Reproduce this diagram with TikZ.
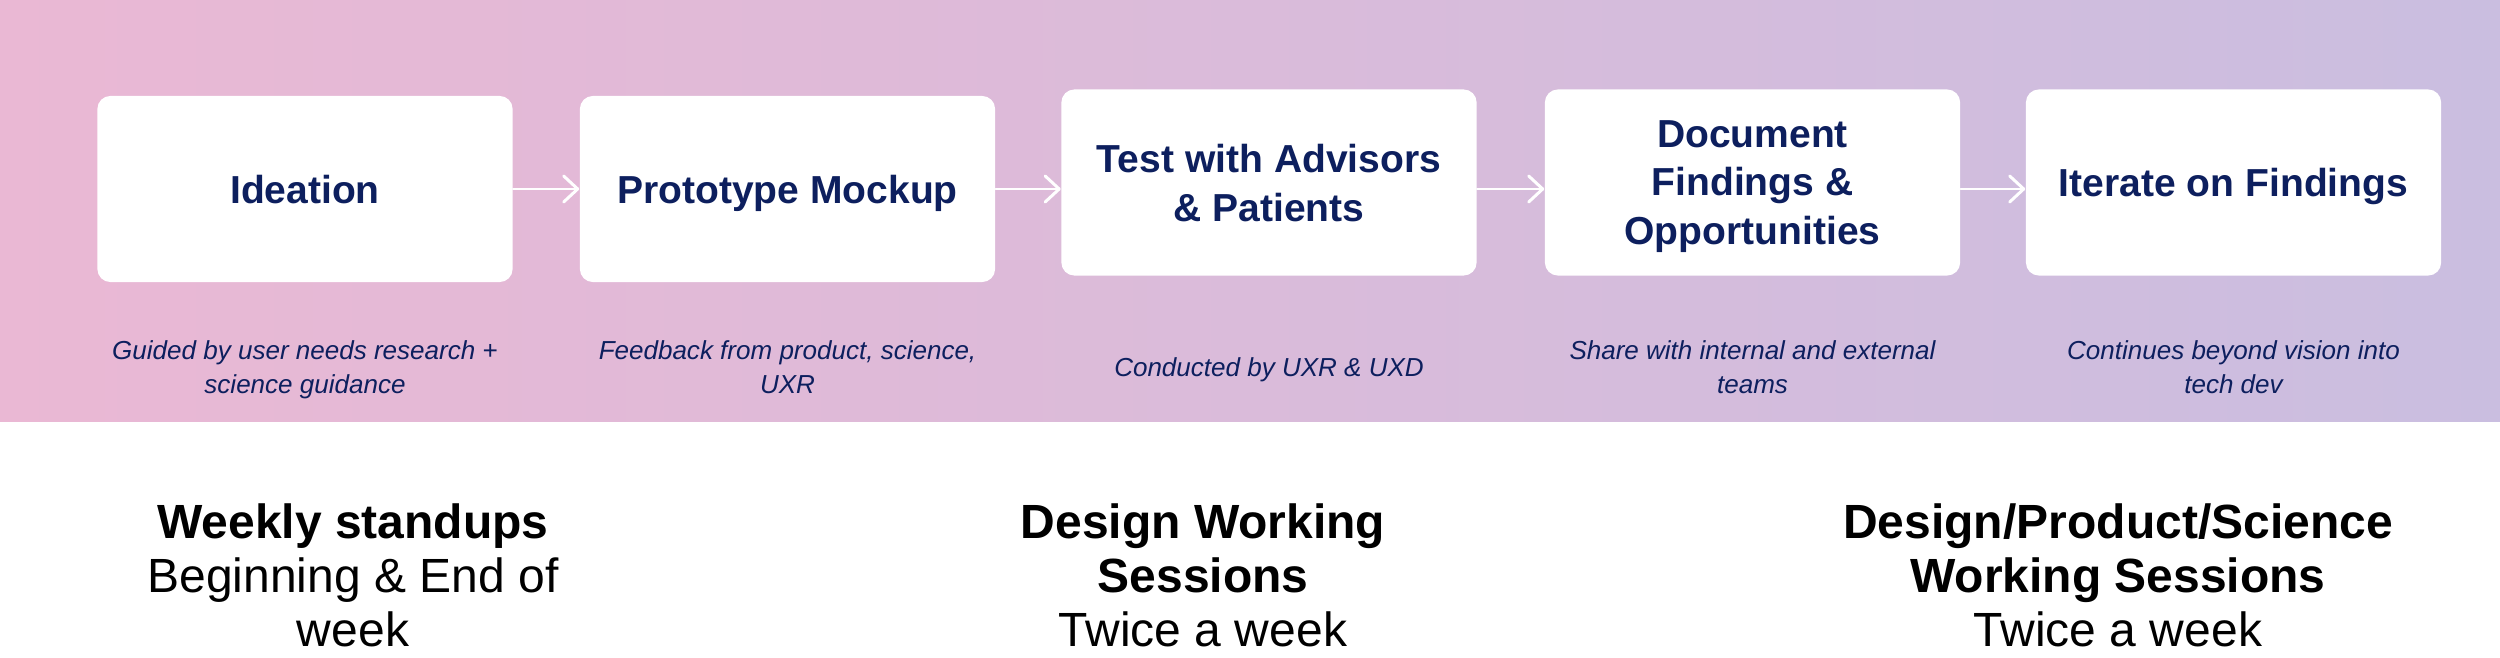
\documentclass[tikz,border=0pt]{standalone}
\usepackage{fontspec}
\setmainfont{Liberation Sans}
\usetikzlibrary{arrows.meta,calc}
\definecolor{navy}{RGB}{13,31,94}
\definecolor{gradl}{RGB}{234,184,212}
\definecolor{gradr}{RGB}{202,190,224}
\tikzset{
  stepbox/.style={fill=white, rounded corners=0.13cm, minimum width=4.15cm,
    minimum height=1.86cm, inner sep=0pt, align=center, text=navy, text depth=0pt,
    font=\bfseries\fontsize{11.1}{13.9}\selectfont},
  desc/.style={align=center, text=navy, inner sep=0pt, text depth=0pt,
    font=\itshape\fontsize{7.4}{9.5}\selectfont},
  meet/.style={align=center, text=black, inner sep=0pt,
    font=\fontsize{13.65}{15.4}\selectfont},
  flow/.style={draw=white, line width=0.85pt, line cap=round,
    -{Straight Barb[length=0.14cm, width=0.26cm, line cap=round, line join=round]}}
}
\begin{document}
\begin{tikzpicture}[x=0.01cm, y=-0.01cm]
\useasboundingbox (0,0) rectangle (2500,658);
\shade[left color=gradl, right color=gradr] (0,0) rectangle (2500,422);

\coordinate (row) at (0,189);

\node[stepbox] (b1) at (305,189) {Ideation};
\node[stepbox] (b2) at (787.5,189) {Prototype Mockup};
\node[stepbox] (b3) at (1269,182.5) {Test with Advisors\\\& Patients};
\node[stepbox] (b4) at (1752.5,182.5) {Document\\Findings \&\\Opportunities};
\node[stepbox] (b5) at (2233.5,182.5) {Iterate on Findings};

\draw[flow] (b1.east |- row) -- (b2.west |- row);
\draw[flow] (b2.east |- row) -- (b3.west |- row);
\draw[flow] (b3.east |- row) -- (b4.west |- row);
\draw[flow] (b4.east |- row) -- (b5.west |- row);

\node[desc] (d1) at (305,367) {Guided by user needs research +\\science guidance};
\node[desc] (d2) at (787.5,367) {Feedback from product, science,\\UXR};
\node[desc] (d3) at (1269,367) {Conducted by UXR \& UXD};
\node[desc] (d4) at (1752.5,367) {Share with internal and external\\teams};
\node[desc] (d5) at (2233.5,367) {Continues beyond vision into\\tech dev};

\node[meet] (m1) at (353,575) {\textbf{Weekly standups}\\Beginning \& End of\\week};
\node[meet] (m2) at (1203,575) {\textbf{Design Working}\\\textbf{Sessions}\\Twice a week};
\node[meet] (m3) at (2118,575) {\textbf{Design/Product/Science}\\\textbf{Working Sessions}\\Twice a week};
\end{tikzpicture}
\end{document}
